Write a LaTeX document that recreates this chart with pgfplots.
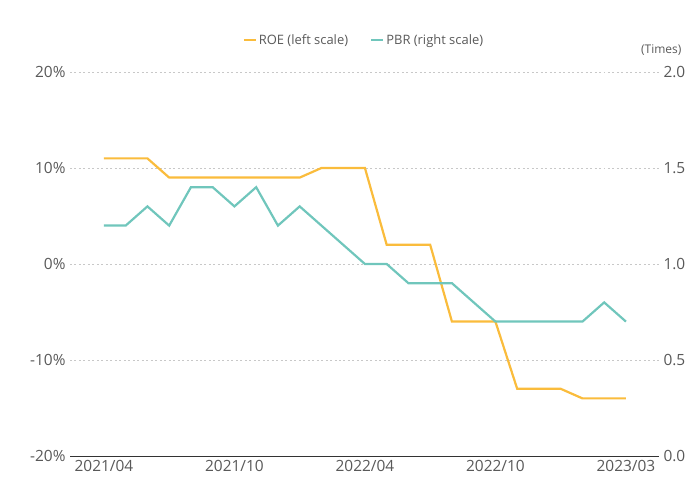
\documentclass[border=0pt]{standalone}
\usepackage{pgfplots}
\pgfplotsset{compat=1.18}
\usepackage{fontspec}
\setmainfont{Open Sans}
\definecolor{roe}{RGB}{250,188,60}
\definecolor{pbr}{RGB}{112,198,188}
\definecolor{txt}{RGB}{89,89,89}
\definecolor{grd}{RGB}{200,200,200}
\pgfplotstableread{
k roe pbr
0 11 1.2
1 11 1.2
2 11 1.3
3 9 1.2
4 9 1.4
5 9 1.4
6 9 1.3
7 9 1.4
8 9 1.2
9 9 1.3
10 10 1.2
11 10 1.1
12 10 1.0
13 2 1.0
14 2 0.9
15 2 0.9
16 -6 0.9
17 -6 0.8
18 -6 0.7
19 -13 0.7
20 -13 0.7
21 -13 0.7
22 -14 0.7
23 -14 0.8
24 -14 0.7
}\data
\begin{document}
\begin{tikzpicture}
\useasboundingbox (-70bp,-25bp) rectangle (621bp,456bp);
\pgfplotsset{
  common/.style={
    scale only axis, width=589bp, height=384bp,
    xmin=-1.56, xmax=25.52,
    /pgf/number format/assume math mode=true,
    tick label style={font=\fontsize{15.5}{17}\selectfont, text=txt},
    major tick length=0pt,
  }
}
\begin{axis}[common,
  ymin=-20, ymax=20, ytick={-20,-10,0,10,20},
  yticklabel={\pgfmathprintnumber{\tick}\%},
  axis y line*=left, axis x line*=bottom,
  y axis line style={draw=none},
  x axis line style={draw=black!80, line width=0.8pt},
  xtick={0,6,12,18,24},
  xticklabels={2021/04,2021/10,2022/04,2022/10,2023/03},
  ymajorgrids, grid style={grd, line width=0.6pt, dash pattern=on 2pt off 2.5pt},
  yticklabel style={xshift=-1bp},
  xticklabel style={yshift=-1bp},
  legend style={at={(rel axis cs:0.499,1.083)}, anchor=center, draw=none, fill=none,
    legend columns=2, font=\fontsize{13}{15}\selectfont, text=txt,
    /tikz/every even column/.append style={column sep=20bp}},
  legend image code/.code={\draw[#1, line width=2.2bp] (0bp,0bp) -- (12bp,0bp);},
]
\addplot[roe, line width=2.2bp] table[x=k, y=roe] {\data};
\addlegendentry{ROE (left scale)}
\addlegendimage{pbr, line width=2.2bp}
\addlegendentry{PBR (right scale)}
\end{axis}
\begin{axis}[common,
  ymin=0, ymax=2, ytick={0,0.5,1,1.5,2},
  axis y line*=right, axis x line=none,
  y axis line style={draw=none},
  yticklabel style={/pgf/number format/fixed, /pgf/number format/fixed zerofill, /pgf/number format/precision=1, xshift=1bp},
  clip=false,
]
\addplot[pbr, line width=2.2bp] table[x=k, y=pbr] {\data};
\node[anchor=east, font=\fontsize{12}{14}\selectfont, text=txt] at (rel axis cs:1.044,1.057) {(Times)};
\end{axis}
\end{tikzpicture}
\end{document}
